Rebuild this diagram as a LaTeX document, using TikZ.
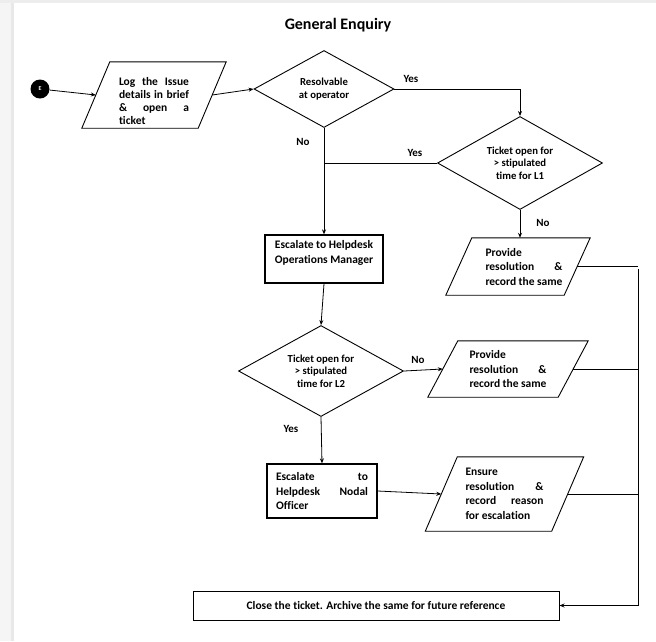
\documentclass[tikz,border=0pt]{standalone}
\usepackage{fontspec}
\setmainfont{Carlito}[Ligatures=NoCommon]
\usetikzlibrary{shapes.geometric,arrows.meta}

% slanted outline round a named (borderless) node
\newcommand{\slantframe}[2]{%
  \draw[boxline] ([xshift=-#2]#1.south west) -- ([xshift=#2]#1.north west)
    -- ([xshift=#2]#1.north east) -- ([xshift=-#2]#1.south east) -- cycle;}
% move a text block inside its node without changing the node size
\newcommand{\nudge}[3]{\raisebox{#2}[\height][\depth]{\hspace*{#1}#3\hspace*{-#1}}}

\begin{document}
\begin{tikzpicture}[x=1pt,y=-1pt,
    every node/.style={font=\bfseries\fontsize{11.5}{14.5}\selectfont},
    boxline/.style={line width=0.9pt},
    flow/.style={line width=0.8pt},
    arrow/.style={flow,-{Stealth[length=5pt,width=4pt]}},
    decision/.style={diamond,draw,boxline,aspect=2,inner sep=0pt,align=center,
        font=\bfseries\fontsize{10.7}{12.5}\selectfont},
    process/.style={rectangle,draw,line width=1.3pt,inner sep=2pt},
    slanted/.style={rectangle,inner sep=0pt},
    tag/.style={inner sep=1pt,font=\bfseries\fontsize{11}{13}\selectfont}]

\useasboundingbox (0,0) rectangle (656,641);
\fill[black!4] (0,0) rectangle (11,641);
\fill[black!9] (11,0) rectangle (14,641);
\fill[black!7] (0,0) rectangle (656,3);

\node (title) at (338,25) {\fontsize{16}{19}\selectfont General Enquiry};

\node[circle,fill=black,minimum size=19pt,inner sep=0pt,text=white,
    font=\bfseries\fontsize{6}{7}\selectfont] (start) at (40,89) {E};

\node[slanted,minimum width=116pt,minimum height=66pt] (log) at (154,95)
    {\nudge{0pt}{-6pt}{\parbox{70pt}{\baselineskip=13pt
     Log \hfill the \hfill Issue\\ details \hfill in \hfill brief\\ \& \hfill open \hfill a\\ ticket}}};
\slantframe{log}{14pt}

\node[decision,minimum width=140pt,minimum height=77pt] (dec1) at (324,89)
    {Resolvable\\ at operator};

\node[decision,minimum width=165pt,minimum height=93pt] (dec2) at (520,163)
    {Ticket open for\\ > stipulated\\ time for L1};

\node[process,minimum width=118pt,minimum height=48pt] (escA) at (324,259)
    {\nudge{0pt}{6pt}{\begin{tabular}{@{}c@{}}Escalate to Helpdesk\\ Operations Manager\end{tabular}}};

\node[slanted,minimum width=118pt,minimum height=57pt] (provA) at (518,266.5)
    {\nudge{6pt}{0pt}{\parbox{77pt}{Provide\\ resolution \hfill \&\\ record the same}}};
\slantframe{provA}{13pt}

\node[decision,minimum width=165pt,minimum height=91pt] (dec3) at (321,371)
    {Ticket open for\\ > stipulated\\ time for L2};

\node[slanted,minimum width=130pt,minimum height=56pt] (provB) at (508,369)
    {\parbox{77pt}{Provide\\ resolution \hfill \&\\ record the same}};
\slantframe{provB}{15pt}

\node[process,minimum width=110pt,minimum height=54pt] (escB) at (322,491)
    {\parbox{92pt}{Escalate \hfill to\\ Helpdesk \hfill Nodal\\ Officer}};

\node[slanted,minimum width=126pt,minimum height=74pt] (ensure) at (504.5,494)
    {\parbox{78pt}{Ensure\\ resolution \hfill \&\\ record \hfill reason\\ for escalation}};
\slantframe{ensure}{16pt}

\node[process,line width=1pt,minimum width=366pt,minimum height=29pt] (close) at (376,605.5)
    {Close the ticket. Archive the same for future reference};

\coordinate (railtop) at (638,269);

% connectors
\draw[arrow] (start) -- (log.west);
\draw[arrow] (log.east) -- (dec1.west);
\draw[arrow] (dec1.east) -| (dec2.north);
\draw[arrow] (dec1.south) -- (escA.north);
\draw[flow] (dec2.west) -- (dec2.west -| dec1.south);
\draw[arrow] (dec2.south) -- (dec2.south |- provA.north);
\draw[arrow] (escA.south) -- (dec3.north);
\draw[arrow] (dec3.east) -- (provB.west);
\draw[arrow] (dec3.south) -- (escB.north);
\draw[arrow] (escB.east) -- (ensure.west);
\draw[flow] (provA.east) -- (provA.east -| railtop);
\draw[flow] (provB.east) -- (provB.east -| railtop);
\draw[flow] (ensure.east) -- (ensure.east -| railtop);
\draw[arrow] (railtop) |- (close.east);

\node[tag] (yes1) at (411,79) {Yes};
\node[tag] (no1) at (303,142) {No};
\node[tag] (yes2) at (415,153) {Yes};
\node[tag] (no2) at (543,223) {No};
\node[tag] (no3) at (418,360) {No};
\node[tag] (yes3) at (291,429) {Yes};

\end{tikzpicture}
\end{document}
